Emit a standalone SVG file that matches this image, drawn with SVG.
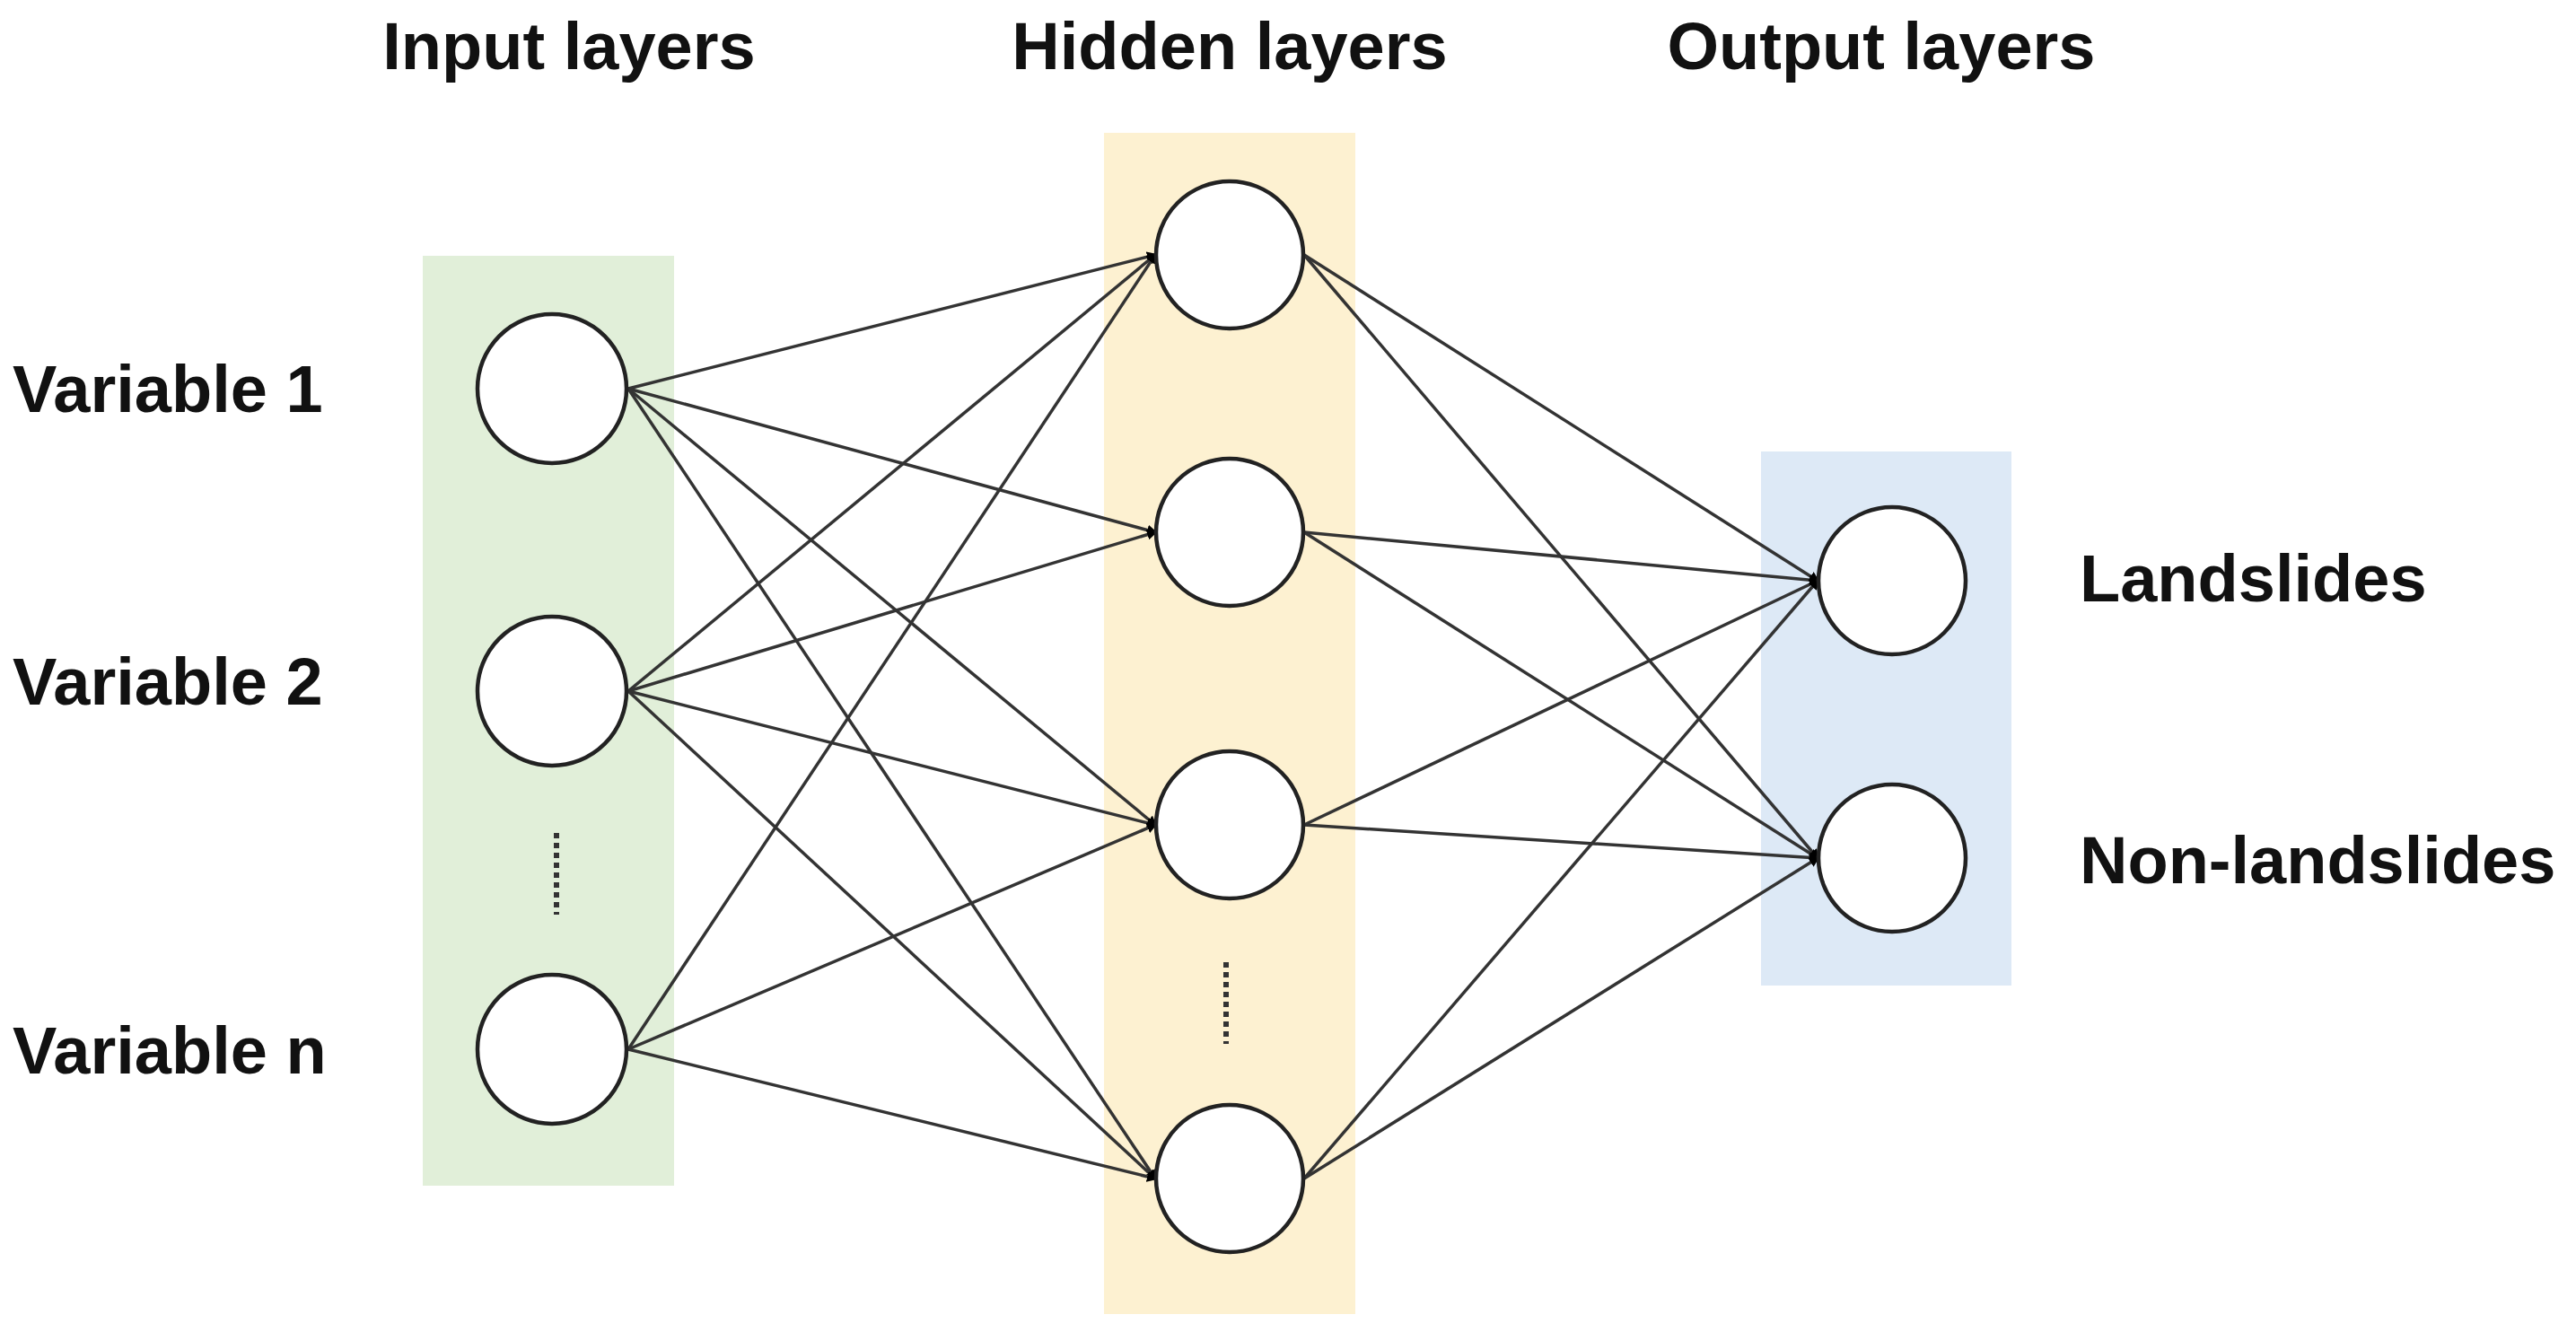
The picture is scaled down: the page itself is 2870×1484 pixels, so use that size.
<svg xmlns="http://www.w3.org/2000/svg" width="2870" height="1484" viewBox="0 0 2870 1484">
<style>
.t{font-family:"Liberation Sans",Arial,sans-serif;font-weight:bold;font-size:74px;fill:#111}
.n{fill:#fff;stroke:#222;stroke-width:4.5}
.c line{stroke:#333;stroke-width:3.5}
.d{stroke:#333;stroke-width:6;stroke-dasharray:6 5}
</style>
<defs><marker id="m" markerWidth="12" markerHeight="12" refX="9" refY="6" orient="auto" markerUnits="userSpaceOnUse"><path d="M0,0 L12,6 L0,12 z" fill="#000"/></marker></defs>
<rect x="471" y="285" width="280" height="1036" fill="#e1efd9"/>
<rect x="1230" y="148" width="280" height="1316" fill="#fdf1d1"/>
<rect x="1962" y="503" width="279" height="595" fill="#dde9f6"/>
<text class="t" x="634" y="77" text-anchor="middle">Input layers</text>
<text class="t" x="1370" y="77" text-anchor="middle">Hidden layers</text>
<text class="t" x="2096" y="77" text-anchor="middle">Output layers</text>
<g class="c">
<line x1="700" y1="433" x2="1287" y2="284" marker-end="url(#m)"/>
<line x1="700" y1="433" x2="1287" y2="593" marker-end="url(#m)"/>
<line x1="700" y1="433" x2="1287" y2="919" marker-end="url(#m)"/>
<line x1="700" y1="433" x2="1287" y2="1313" marker-end="url(#m)"/>
<line x1="700" y1="770" x2="1287" y2="284" marker-end="url(#m)"/>
<line x1="700" y1="770" x2="1287" y2="593" marker-end="url(#m)"/>
<line x1="700" y1="770" x2="1287" y2="919" marker-end="url(#m)"/>
<line x1="700" y1="770" x2="1287" y2="1313" marker-end="url(#m)"/>
<line x1="700" y1="1169" x2="1287" y2="284" marker-end="url(#m)"/>
<line x1="700" y1="1169" x2="1287" y2="919" marker-end="url(#m)"/>
<line x1="700" y1="1169" x2="1287" y2="1313" marker-end="url(#m)"/>
<line x1="1453" y1="284" x2="2025" y2="647" marker-end="url(#m)"/>
<line x1="1453" y1="284" x2="2025" y2="956" marker-end="url(#m)"/>
<line x1="1453" y1="593" x2="2025" y2="647" marker-end="url(#m)"/>
<line x1="1453" y1="593" x2="2025" y2="956" marker-end="url(#m)"/>
<line x1="1453" y1="919" x2="2025" y2="647" marker-end="url(#m)"/>
<line x1="1453" y1="919" x2="2025" y2="956" marker-end="url(#m)"/>
<line x1="1453" y1="1313" x2="2025" y2="647" marker-end="url(#m)"/>
<line x1="1453" y1="1313" x2="2025" y2="956" marker-end="url(#m)"/>
</g>
<g id="in1"><circle class="n" cx="615" cy="433" r="83"/><text class="t" x="14" y="459">Variable 1</text></g>
<g id="in2"><circle class="n" cx="615" cy="770" r="83"/><text class="t" x="14" y="785">Variable 2</text></g>
<g id="inn"><circle class="n" cx="615" cy="1169" r="83"/><text class="t" x="14" y="1196">Variable n</text></g>
<line class="d" x1="620" y1="928" x2="620" y2="1019"/>
<g id="h1"><circle class="n" cx="1370" cy="284" r="82"/></g>
<g id="h2"><circle class="n" cx="1370" cy="593" r="82"/></g>
<g id="h3"><circle class="n" cx="1370" cy="919" r="82"/></g>
<g id="h4"><circle class="n" cx="1370" cy="1313" r="82"/></g>
<line class="d" x1="1366" y1="1072" x2="1366" y2="1163"/>
<g id="o1"><circle class="n" cx="2108" cy="647" r="82"/><text class="t" x="2317" y="670">Landslides</text></g>
<g id="o2"><circle class="n" cx="2108" cy="956" r="82"/><text class="t" x="2317" y="984">Non-landslides</text></g>
</svg>
